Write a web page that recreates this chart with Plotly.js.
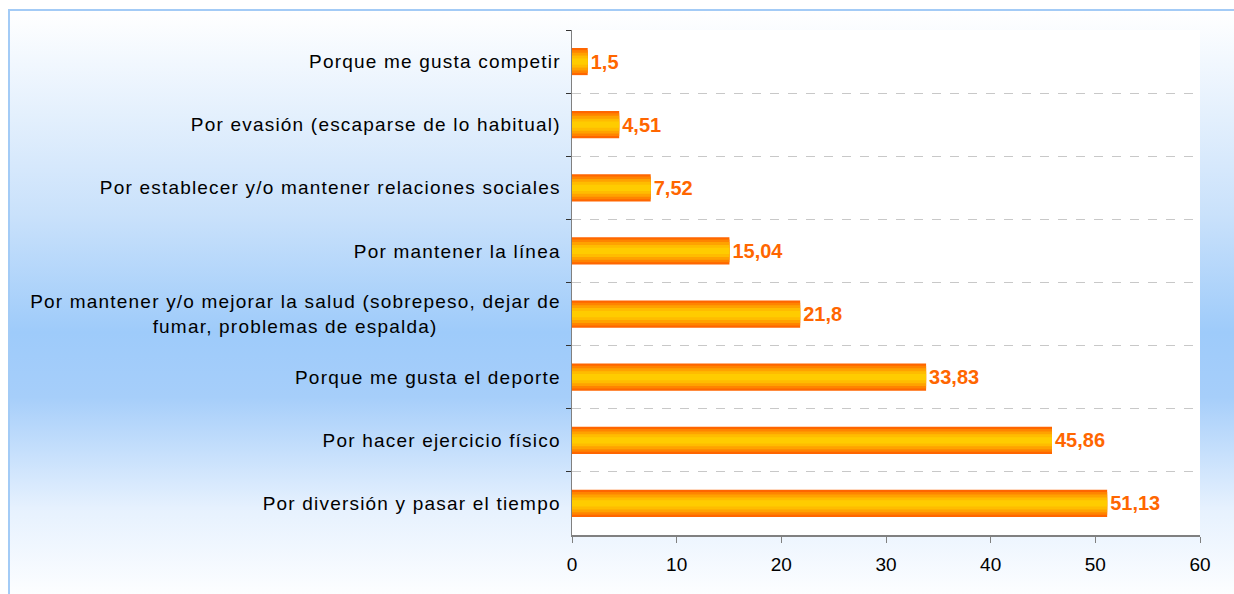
<!DOCTYPE html>
<html>
<head>
<meta charset="utf-8">
<script src="https://cdn.plot.ly/plotly-3.0.1.min.js"></script>
<style>
  html, body { margin: 0; padding: 0; background: #ffffff; }
  #frame {
    position: absolute; left: 8px; top: 9px; width: 1226px; height: 585px;
    border-top: 2px solid #a3cbf6; border-left: 2px solid #a3cbf6;
    background: linear-gradient(to bottom, #ffffff 0%, #c9e1fb 35%, #9ecbfa 55%, #a6cefa 66%, #e6f1fe 85%, #fdfeff 100%);
  }
  #chart { position: absolute; left: 0; top: 0; width: 1234px; height: 594px; }
  /* Excel-ish wide letter spacing */
  #chart .ytick text { letter-spacing: 1.2px; }
  #chart .textpoint text { letter-spacing: 0.8px; }
</style>
</head>
<body>
<div id="frame"></div>
<div id="chart"></div>
<script>
// Motivos para practicar deporte (%)
// trailing no-break spaces keep the second line roughly centred under the first
var pad = '\u00a0'.repeat(19);
var motivos = [
  'Porque me gusta competir',
  'Por evasión (escaparse de lo habitual)',
  'Por establecer y/o mantener relaciones sociales',
  'Por mantener la línea',
  'Por mantener y/o mejorar la salud (sobrepeso, dejar de<br>fumar, problemas de espalda)' + pad,
  'Porque me gusta el deporte',
  'Por hacer ejercicio físico',
  'Por diversión y pasar el tiempo'
];
var porcentajes = [1.5, 4.51, 7.52, 15.04, 21.8, 33.83, 45.86, 51.13];

// fake the orange->yellow gradient with stacked overlay bars of shrinking width
var capas = [
  {w: 0.43, c: '#ff6600'},
  {w: 0.36, c: '#ff8400'},
  {w: 0.28, c: '#ffa200'},
  {w: 0.19, c: '#ffbc00'},
  {w: 0.10, c: '#ffcc00'}
];

var data = capas.map(function(capa, i) {
  var t = {
    type: 'bar',
    orientation: 'h',
    x: porcentajes,
    y: motivos,
    width: capa.w,
    marker: {color: capa.c, line: {width: 0}},
    hoverinfo: 'skip',
    showlegend: false
  };
  if (i === 0) {
    t.hoverinfo = 'x';
    t.texttemplate = '%{x}';
    t.textposition = 'outside';
    t.cliponaxis = false;
    t.textfont = {family: 'Liberation Sans, Arial, sans-serif', size: 20, color: '#ff6600', weight: 'bold'};
  }
  return t;
});

var layout = {
  width: 1234,
  height: 594,
  separators: ',.',
  barmode: 'overlay',
  paper_bgcolor: 'rgba(0,0,0,0)',
  plot_bgcolor: '#ffffff',
  margin: {l: 572, r: 34, t: 30, b: 59},
  font: {family: 'Liberation Sans, Arial, sans-serif', size: 16, color: '#000000'},
  xaxis: {
    range: [0, 60],
    dtick: 10,
    showgrid: false,
    zeroline: false,
    showline: true,
    linecolor: '#808080',
    linewidth: 1.5,
    ticks: 'outside',
    ticklen: 6,
    tickcolor: '#808080',
    ticklabelstandoff: 6,
    tickfont: {size: 19}
  },
  yaxis: {
    type: 'category',
    autorange: 'reversed',
    tickson: 'boundaries',
    ticks: 'outside',
    ticklen: 5,
    tickcolor: '#333333',
    ticklabelstandoff: 6,
    tickfont: {size: 19},
    showline: true,
    linecolor: '#808080',
    linewidth: 1.5,
    showgrid: true,
    gridcolor: '#c8c8c8',
    griddash: 'dash',
    gridwidth: 1
  }
};

Plotly.newPlot('chart', data, layout, {displayModeBar: false, staticPlot: true});
</script>
</body>
</html>
